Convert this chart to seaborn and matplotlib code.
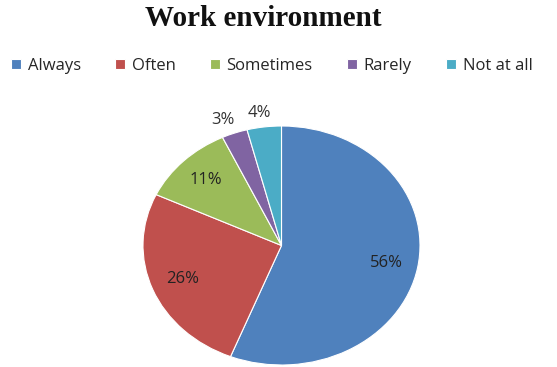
import numpy as np
import matplotlib
matplotlib.use("Agg")
import matplotlib.pyplot as plt
import seaborn as sns

categories = ["Always", "Often", "Sometimes", "Rarely", "Not at all"]
values = [56, 26, 11, 3, 4]
colors = ["#4F81BD", "#C0504D", "#9BBB59", "#8064A2", "#4BACC6"]
title = "Work environment"

sns.set_theme(style="white")
plt.rcParams["font.family"] = ["Open Sans", "DejaVu Sans"]

fig = plt.figure(figsize=(5.57, 3.67), dpi=100)
ax = fig.add_axes([143 / 557, 2 / 367, 277 / 557, 239 / 367])

wedges, texts, autotexts = ax.pie(
    values, colors=colors, startangle=90, counterclock=False,
    autopct="%d%%", pctdistance=0.77, radius=1.0,
    wedgeprops=dict(edgecolor="white", linewidth=0.8),
    textprops=dict(fontsize=12, color="#222222"),
)
# small slices get their labels outside
for w, t, v in zip(wedges, autotexts, values):
    if v < 5:
        ang = np.deg2rad((w.theta1 + w.theta2) / 2)
        t.set_position((1.25 * np.cos(ang), 1.12 * np.sin(ang)))
        t.set_color("#333333")

ax.set_aspect("auto")
ax.set_xlim(-1, 1)
ax.set_ylim(-1, 1)
ax.axis("off")

fig.text(0.472, 1 - 19 / 367, title, ha="center", va="center",
         family="Liberation Serif", fontweight="bold", fontsize=21, color="#111111")

fig.legend(wedges, categories, loc="center", bbox_to_anchor=(0.488, 1 - 66 / 367),
           ncol=5, frameon=False, fontsize=12, handlelength=0.6, handleheight=0.6,
           handletextpad=0.4, columnspacing=2.05, borderaxespad=0)

fig.savefig("out.png", dpi=100)
